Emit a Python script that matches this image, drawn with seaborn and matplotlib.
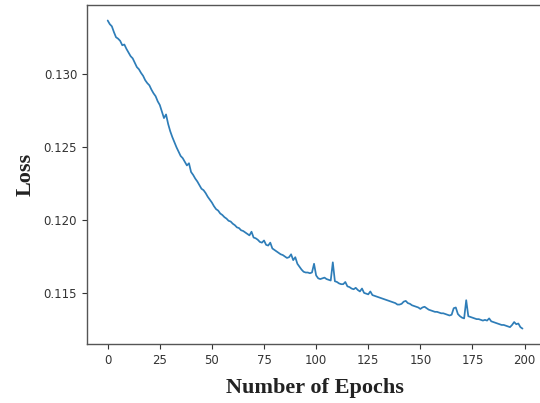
import numpy as np
import pandas as pd
import matplotlib
matplotlib.use("Agg")
import matplotlib.pyplot as plt
import seaborn as sns

loss = [
    0.13370, 0.13345, 0.13330, 0.13290, 0.13255, 0.13245, 0.13230, 0.13200, 0.13205, 0.13175,
    0.13150, 0.13125, 0.13110, 0.13080, 0.13050, 0.13035, 0.13010, 0.12990, 0.12960, 0.12940,
    0.12925, 0.12895, 0.12870, 0.12850, 0.12815, 0.12790, 0.12745, 0.12700, 0.12725, 0.12660,
    0.12610, 0.12570, 0.12535, 0.12500, 0.12470, 0.12440, 0.12425, 0.12400, 0.12375, 0.12390,
    0.12330, 0.12310, 0.12285, 0.12265, 0.12240, 0.12215, 0.12205, 0.12185, 0.12160, 0.12140,
    0.12120, 0.12095, 0.12075, 0.12065, 0.12045, 0.12035, 0.12020, 0.12010, 0.11995, 0.11990,
    0.11975, 0.11965, 0.11950, 0.11945, 0.11930, 0.11925, 0.11915, 0.11905, 0.11895, 0.11920,
    0.11880, 0.11875, 0.11865, 0.11850, 0.11845, 0.11860, 0.11830, 0.11825, 0.11845, 0.11805,
    0.11795, 0.11785, 0.11775, 0.11765, 0.11760, 0.11750, 0.11740, 0.11745, 0.11765, 0.11725,
    0.11745, 0.11700, 0.11680, 0.11660, 0.11645, 0.11640, 0.11640, 0.11635, 0.11640, 0.11700,
    0.11620, 0.11600, 0.11595, 0.11600, 0.11605, 0.11595, 0.11590, 0.11585, 0.11710, 0.11580,
    0.11575, 0.11565, 0.11560, 0.11560, 0.11575, 0.11545, 0.11540, 0.11530, 0.11525, 0.11535,
    0.11520, 0.11510, 0.11530, 0.11500, 0.11495, 0.11490, 0.11510, 0.11485, 0.11480, 0.11475,
    0.11470, 0.11465, 0.11460, 0.11455, 0.11450, 0.11445, 0.11440, 0.11435, 0.11430, 0.11420,
    0.11420, 0.11425, 0.11440, 0.11445, 0.11430, 0.11425, 0.11415, 0.11410, 0.11405, 0.11400,
    0.11390, 0.11400, 0.11405, 0.11395, 0.11385, 0.11380, 0.11375, 0.11370, 0.11370, 0.11365,
    0.11360, 0.11360, 0.11355, 0.11350, 0.11345, 0.11350, 0.11395, 0.11400, 0.11355, 0.11340,
    0.11330, 0.11325, 0.11450, 0.11340, 0.11335, 0.11330, 0.11325, 0.11320, 0.11320, 0.11315,
    0.11310, 0.11315, 0.11310, 0.11325, 0.11305, 0.11300, 0.11295, 0.11290, 0.11285, 0.11280,
    0.11280, 0.11275, 0.11270, 0.11265, 0.11280, 0.11300, 0.11285, 0.11290, 0.11265, 0.11255,
]
epochs = list(range(len(loss)))
x_ticks = [0, 25, 50, 75, 100, 125, 150, 175, 200]
y_ticks = [0.115, 0.120, 0.125, 0.130]

df = pd.DataFrame({"epoch": epochs, "loss": loss})

sns.set_style("ticks")
plt.rcParams["font.family"] = ["DejaVu Sans"]

fig = plt.figure(figsize=(5.4, 4.03), dpi=100)
ax = fig.add_axes([0.161, 0.1464, 0.845, 0.841])
sns.lineplot(data=df, x="epoch", y="loss", ax=ax, color="#2e7db8", linewidth=1.25)

ax.set_xticks(x_ticks)
ax.set_yticks(y_ticks)
ax.set_yticklabels([f"{v:.3f}" for v in y_ticks])
ax.tick_params(axis="both", labelsize=8.5, colors="#333333", length=3.5, width=0.8)
for s in ax.spines.values():
    s.set_color("#555555")
    s.set_linewidth(1.0)

ax.set_xlabel("Number of Epochs", family="Liberation Serif", fontweight="bold",
              fontsize=16, color="#222222", labelpad=8)
ax.set_ylabel("Loss", family="Liberation Serif", fontweight="bold",
              fontsize=16, color="#222222", labelpad=6)

fig.savefig("out.png", dpi=100)
